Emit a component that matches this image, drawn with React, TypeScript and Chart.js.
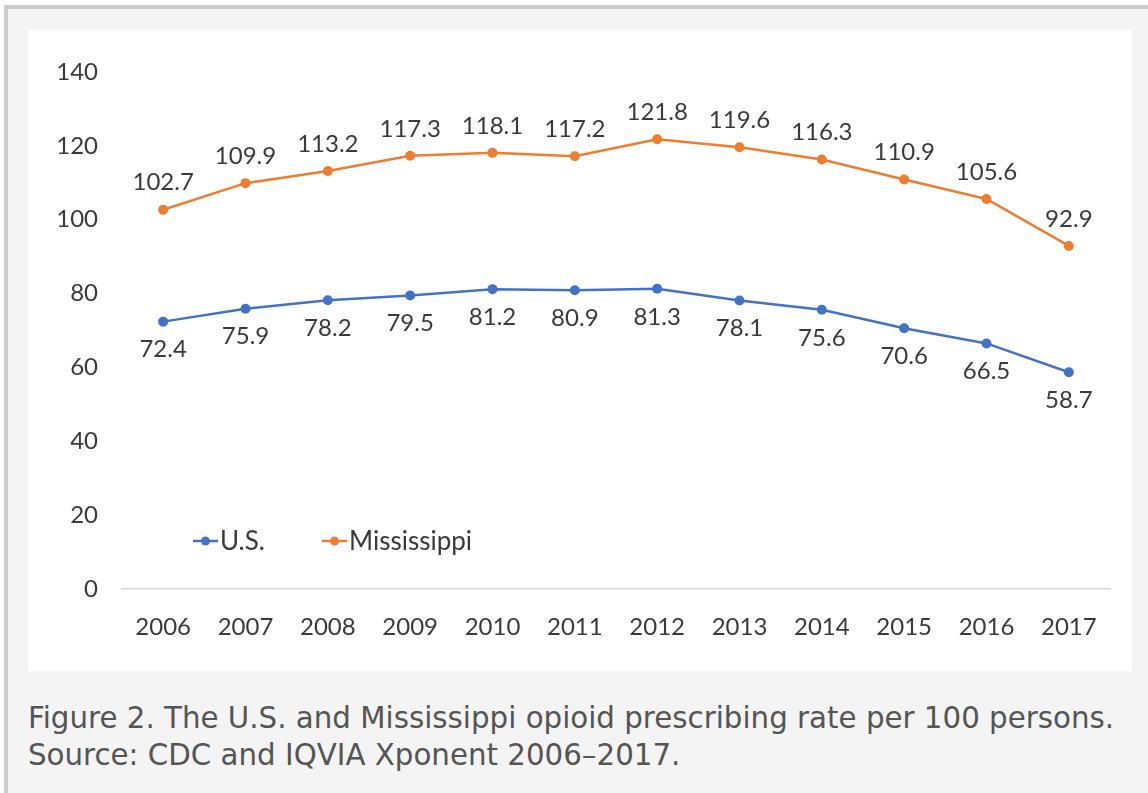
import React, { useEffect, useRef } from "react";
import { Chart, registerables } from "chart.js";

Chart.register(...registerables);

const years = ["2006", "2007", "2008", "2009", "2010", "2011", "2012", "2013", "2014", "2015", "2016", "2017"];
const usValues = [72.4, 75.9, 78.2, 79.5, 81.2, 80.9, 81.3, 78.1, 75.6, 70.6, 66.5, 58.7];
const msValues = [102.7, 109.9, 113.2, 117.3, 118.1, 117.2, 121.8, 119.6, 116.3, 110.9, 105.6, 92.9];
const seriesNames = ["U.S.", "Mississippi"];
const seriesColors = ["#4472C4", "#ED7D31"];
const yMin = 0;
const yMax = 140;
const yStep = 20;

const FONT = "Lato, 'Open Sans', sans-serif";
const TEXT_COLOR = "#3a3a3a";

const dataLabelPlugin = {
  id: "dataLabels",
  afterDatasetsDraw(chart: any) {
    const ctx = chart.ctx;
    ctx.save();
    ctx.font = `24px ${FONT}`;
    ctx.fillStyle = TEXT_COLOR;
    ctx.textAlign = "center";
    ctx.textBaseline = "middle";
    chart.data.datasets.forEach((ds: any, di: number) => {
      const meta = chart.getDatasetMeta(di);
      const off = di === 0 ? 28 : -27;
      meta.data.forEach((pt: any, i: number) => {
        ctx.fillText(ds.data[i].toFixed(1), pt.x, pt.y + off);
      });
    });
    ctx.restore();
  },
};

const legendPlugin = {
  id: "insideLegend",
  afterDraw(chart: any) {
    const ctx = chart.ctx;
    const area = chart.chartArea;
    const y = area.bottom - 48;
    const starts = [area.left + 71, area.left + 200];
    ctx.save();
    ctx.font = `26px ${FONT}`;
    ctx.textBaseline = "middle";
    ctx.textAlign = "left";
    seriesNames.forEach((name, i) => {
      const x0 = starts[i];
      const color = seriesColors[i];
      ctx.strokeStyle = color;
      ctx.lineWidth = 2.5;
      ctx.beginPath();
      ctx.moveTo(x0, y);
      ctx.lineTo(x0 + 25, y);
      ctx.stroke();
      ctx.fillStyle = color;
      ctx.beginPath();
      ctx.arc(x0 + 12.5, y, 4.5, 0, Math.PI * 2);
      ctx.fill();
      ctx.fillStyle = TEXT_COLOR;
      ctx.fillText(name, x0 + 27, y + 1);
    });
    ctx.restore();
  },
};

function ChartBox() {
  const ref = useRef<HTMLCanvasElement | null>(null);
  useEffect(() => {
    if (!ref.current) return;
    const chart = new Chart(ref.current, {
      type: "line",
      data: {
        labels: years,
        datasets: [
          {
            label: seriesNames[0],
            data: usValues,
            borderColor: seriesColors[0],
            backgroundColor: seriesColors[0],
            borderWidth: 2.5,
            pointRadius: 5,
            pointBorderWidth: 0,
            tension: 0,
          },
          {
            label: seriesNames[1],
            data: msValues,
            borderColor: seriesColors[1],
            backgroundColor: seriesColors[1],
            borderWidth: 2.5,
            pointRadius: 5,
            pointBorderWidth: 0,
            tension: 0,
          },
        ],
      },
      options: {
        animation: false,
        responsive: false,
        maintainAspectRatio: false,
        layout: { padding: { left: 0, top: 42, right: 22, bottom: 0 } },
        plugins: {
          legend: { display: false },
          tooltip: { enabled: false },
          title: { display: false },
        },
        scales: {
          x: {
            offset: true,
            grid: { display: false, drawTicks: false },
            border: { display: true, color: "#d9d9d9", width: 1.5 },
            ticks: {
              padding: 24,
              color: TEXT_COLOR,
              font: { family: FONT, size: 24 },
              maxRotation: 0,
              autoSkip: false,
            },
            afterFit(axis: any) {
              axis.height = 82;
            },
          },
          y: {
            min: yMin,
            max: yMax,
            grid: { display: false, drawTicks: false },
            border: { display: false },
            ticks: {
              stepSize: yStep,
              padding: 24,
              color: TEXT_COLOR,
              font: { family: FONT, size: 24 },
            },
            afterFit(axis: any) {
              axis.width = 94;
            },
          },
        },
      },
      plugins: [dataLabelPlugin, legendPlugin],
    });
    return () => chart.destroy();
  }, []);
  return <canvas ref={ref} width={1104} height={641} style={{ display: "block" }} />;
}

export default function App() {
  return (
    <div
      style={{
        position: "fixed",
        left: 4,
        top: 5,
        width: 1200,
        height: 850,
        border: "4px solid #cccccc",
        background: "#f4f4f4",
      }}
    >
      <div style={{ position: "absolute", left: 20, top: 21, width: 1104, height: 641, background: "#ffffff" }}>
        <ChartBox />
      </div>
      <div
        style={{
          position: "absolute",
          left: 20,
          top: 691,
          width: 1120,
          fontFamily: "'DejaVu Sans', sans-serif",
          fontSize: 29.3,
          lineHeight: "37px",
          color: "#555555",
          whiteSpace: "nowrap",
        }}
      >
        Figure 2. The U.S. and Mississippi opioid prescribing rate per 100 persons.
        <br />
        Source: CDC and IQVIA Xponent 2006–2017.
      </div>
    </div>
  );
}
